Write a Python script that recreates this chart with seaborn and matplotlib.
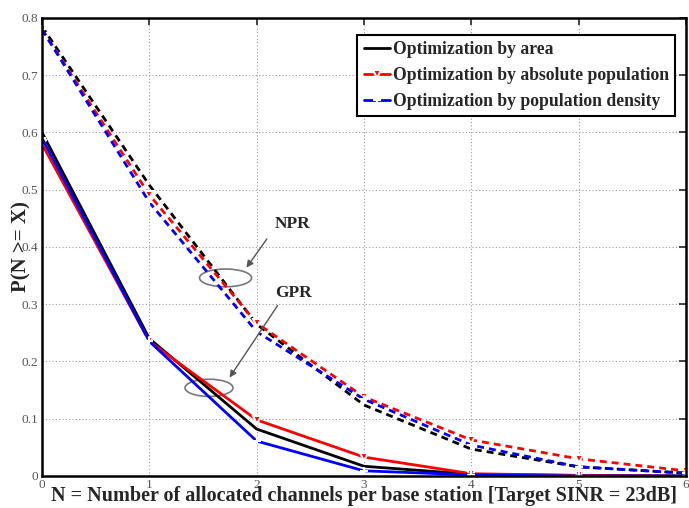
import numpy as np
import pandas as pd
import seaborn as sns
import matplotlib
matplotlib.use("Agg")
import matplotlib.pyplot as plt
from matplotlib.patches import Ellipse

# Number of allocated channels per base station
channels = [0, 1, 2, 3, 4, 5, 6]

# GPR (solid curves)
gpr_area = [0.600, 0.240, 0.082, 0.017, 0.003, 0.001, 0.000]
gpr_abs_pop = [0.580, 0.235, 0.098, 0.033, 0.004, 0.001, 0.000]
gpr_density = [0.590, 0.235, 0.061, 0.009, 0.002, 0.000, 0.000]

# NPR (dashed curves)
npr_area = [0.785, 0.508, 0.265, 0.124, 0.047, 0.016, 0.005]
npr_abs_pop = [0.780, 0.491, 0.267, 0.138, 0.063, 0.030, 0.009]
npr_density = [0.780, 0.478, 0.252, 0.134, 0.054, 0.016, 0.005]

series_names = ["Optimization by area",
                "Optimization by absolute population",
                "Optimization by population density"]
x_ticks = [0, 1, 2, 3, 4, 5, 6]
y_ticks = [0, 0.1, 0.2, 0.3, 0.4, 0.5, 0.6, 0.7, 0.8]
y_tick_labels = ["0", "0.1", "0.2", "0.3", "0.4", "0.5", "0.6", "0.7", "0.8"]

sns.set_style("white")
plt.rcParams["font.family"] = ["Liberation Serif", "DejaVu Serif"]

fig = plt.figure(figsize=(6.89, 5.08), dpi=100)
ax = fig.add_axes([0.061, 0.063, 0.9346, 0.9016])

styles = [
    dict(color="black", marker=None),
    dict(color="#ff0000", marker="v"),
    dict(color="#0000ff", marker="+"),
]

for name, vals, st in zip(series_names, [gpr_area, gpr_abs_pop, gpr_density], styles):
    df = pd.DataFrame({"N": channels, "P": vals})
    kw = dict(marker=st["marker"], markersize=6, markeredgewidth=1.5) if st["marker"] else {}
    sns.lineplot(data=df, x="N", y="P", ax=ax, color=st["color"], linewidth=2,
                 label=name, **kw)

for vals, st in zip([npr_area, npr_abs_pop, npr_density], styles):
    df = pd.DataFrame({"N": channels, "P": vals})
    kw = dict(marker=st["marker"], markersize=6, markeredgewidth=1.5) if st["marker"] else {}
    sns.lineplot(data=df, x="N", y="P", ax=ax, color=st["color"], linewidth=2,
                 linestyle=(0, (2.5, 1.8)), label="_nolegend_", **kw)

ax.set_xlim(0, 6)
ax.set_ylim(0, 0.8)
ax.set_xticks(x_ticks)
ax.set_yticks(y_ticks)
ax.set_yticklabels(y_tick_labels)
ax.tick_params(direction="in", length=5, width=1.2, top=True, right=True,
               labelsize=9.5, labelcolor="#555555")
ax.tick_params(axis="x", pad=2)
ax.tick_params(axis="y", pad=3)
ax.grid(True, linestyle=(0, (1, 2)), color="#9a9a9a", linewidth=0.8)
for sp in ax.spines.values():
    sp.set_linewidth(1.8)
    sp.set_color("black")

ax.set_xlabel("N = Number of allocated channels per base station [Target SINR = 23dB]",
              fontsize=14.5, fontweight="bold", va="bottom")
ax.xaxis.set_label_coords(0.5, -0.0665)
ax.set_ylabel("P(N >= X)", fontsize=15, fontweight="bold", va="center")
ax.yaxis.set_label_coords(-0.032, 0.5)

# Annotations marking the two groups of curves
ax.add_patch(Ellipse((1.71, 0.346), 0.485, 0.031, fill=False, edgecolor="#777777", linewidth=1.2))
ax.add_patch(Ellipse((1.556, 0.154), 0.447, 0.030, fill=False, edgecolor="#777777", linewidth=1.2))
ax.annotate("", xy=(1.89, 0.36), xytext=(2.11, 0.418),
            arrowprops=dict(arrowstyle="-|>", color="#555555", lw=1, mutation_scale=10))
ax.annotate("", xy=(1.733, 0.168), xytext=(2.21, 0.302),
            arrowprops=dict(arrowstyle="-|>", color="#555555", lw=1, mutation_scale=10))
ax.text(2.33, 0.44, "NPR", fontsize=12.5, fontweight="bold", ha="center", va="center")
ax.text(2.34, 0.32, "GPR", fontsize=12.5, fontweight="bold", ha="center", va="center")

leg = ax.legend(loc="upper right", bbox_to_anchor=(0.983, 0.963),
                prop=dict(weight="bold", size=12.7), frameon=True, fancybox=False,
                handlelength=1.5, handletextpad=0.15, borderpad=0.35, labelspacing=0.5,
                borderaxespad=0)
leg.get_frame().set_edgecolor("black")
leg.get_frame().set_linewidth(1.5)
leg.get_frame().set_alpha(1)

fig.savefig("out.png", dpi=100)
